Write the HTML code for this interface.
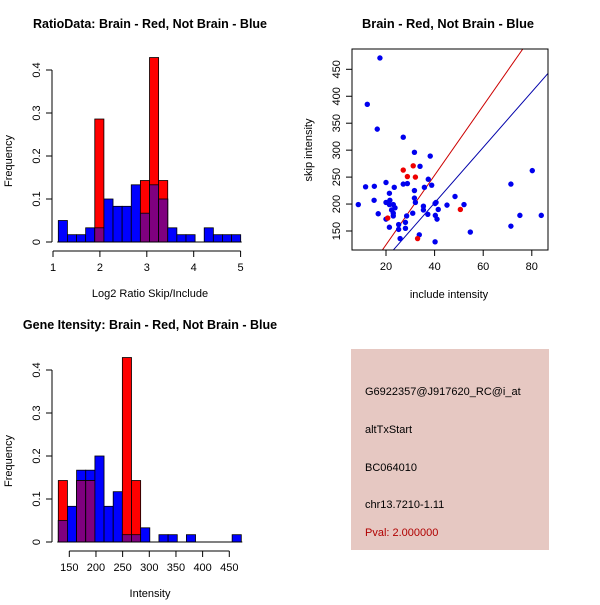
<!DOCTYPE html>
<html><head><meta charset="utf-8"><style>
body{margin:0;background:#fff}
svg text{font-family:"Liberation Sans",sans-serif}
</style></head><body>
<svg id="s" width="600" height="600" xmlns="http://www.w3.org/2000/svg">
<rect width="600" height="600" fill="#fff"/>
<text x="150" y="28" font-size="12.5" font-weight="bold" text-anchor="middle">RatioData: Brain - Red, Not Brain - Blue</text>
<text x="448" y="28" font-size="12.8" font-weight="bold" text-anchor="middle">Brain - Red, Not Brain - Blue</text>
<text x="150" y="329" font-size="12.5" font-weight="bold" text-anchor="middle">Gene Itensity: Brain - Red, Not Brain - Blue</text>
<g>
<rect x="351" y="349" width="198" height="201" fill="#e6c8c2"/>
<text x="365" y="395" font-size="11">G6922357@J917620_RC@i_at</text>
<text x="365" y="433" font-size="11">altTxStart</text>
<text x="365" y="471" font-size="11">BC064010</text>
<text x="365" y="508" font-size="11">chr13.7210-1.11</text>
<text x="365" y="536" font-size="11" fill="#b00000">Pval: 2.000000</text>
</g>
</svg>
<script>
// Ratio histogram data
const ratioBlue=[0.05,0.017,0.017,0.033,0.033,0.1,0.083,0.083,0.133,0.067,0.133,0.1,0.033,0.017,0.017,0,0.033,0.017,0.017,0.017];
const ratioRed=[0,0,0,0,0.286,0,0,0,0,0.143,0.429,0.143,0,0,0,0,0,0,0,0];
const ratioTicks=[1,2,3,4,5];
// Intensity histogram data
const intBlue=[0.05,0.083,0.167,0.167,0.2,0.083,0.117,0.017,0.017,0.033,0,0.017,0.017,0,0.017,0,0,0,0,0.017];
const intRed=[0.143,0,0.143,0.143,0,0,0,0.429,0.143,0,0,0,0,0,0,0,0,0,0,0];
const intTicks=[150,200,250,300,350,400,450];
const freqTicks=[0,0.1,0.2,0.3,0.4];
// Scatter data
const blueX=[17.5,12.3,16.4,27.1,31.7,38.2,34,37.4,20,11.6,15.2,23.4,27.1,28.8,31.7,35.8,38.8,21.4,8.6,15.1,20,21.6,23,21.4,23.7,22.3,23,23,16.8,20,21.4,25.2,25.2,25.8,28,28,28.5,31.7,32.1,31,35.4,35.4,37.2,40.2,40.6,40.3,41,41.5,45.1,48.4,52.1,54.7,40.2,33.7,71.4,71.4,75.1,80.2,83.9];
const blueY=[471,385,339,324,296,289,270,246,240,232,233,231,237,238,225,231,235,220,199,207,203,207,199,199,193,189,183,178,182,172,157,162,153,136,166,155,178,211,203,183,196,189,181,201,203,179,172,190,198,214,199,148,130,143,237,159,179,262,179];
const redX=[27.1,28.8,31.2,32.1,20.7,33,50.6];
const redY=[263,251,271,250,174,136,190];
const xTicks=[20,40,60,80];
const yTicks=[150,200,250,300,350,400,450];
const redLine=[18.5,114.7,76.3,487.7];
const blueLine=[23,114.7,86.7,442.6];

const NS="http://www.w3.org/2000/svg",S=document.getElementById('s');
function el(t,a,p){const e=document.createElementNS(NS,t);for(const k in a)e.setAttribute(k,a[k]);(p||S).appendChild(e);return e;}
function txt(x,y,s,a,p){const e=el('text',Object.assign({x:x,y:y,'font-size':11,'text-anchor':'middle'},a||{}),p);e.textContent=s;return e;}

function hist(name,blue,red,x0,x1,ticks,tx,xlabel,top){
  const g=el('g',{});
  
  
  const y=v=>top+242-v*430;
  const n=blue.length,w=(x1-x0)/n;
  for(let i=0;i<n;i++){
    const bx=x0+i*w,b=blue[i],r=red[i],m=Math.min(b,r);
    if(b>0){const e=el('rect',{x:bx,y:y(b),width:w,height:y(0)-y(b),fill:'#0000ff',stroke:'#000','stroke-width':0.8},g);
      
      }
    if(r>0){const e=el('rect',{x:bx,y:y(r),width:w,height:y(0)-y(r),fill:'#ff0000',stroke:'#000','stroke-width':0.8},g);
      
      }
    if(m>0){const e=el('rect',{x:bx,y:y(m),width:w,height:y(0)-y(m),fill:'#7f007f',stroke:'#000','stroke-width':0.8},g);
      
      }
  }
  el('line',{x1:x0-1,x2:x1+1,y1:y(0),y2:y(0),stroke:'#000','stroke-width':1},g);
  el('line',{x1:52,x2:52,y1:y(0),y2:y(0.4),stroke:'#000'},g);
  freqTicks.forEach(v=>{el('line',{x1:46,x2:52,y1:y(v),y2:y(v),stroke:'#000'},g);
    txt(40,y(v),String(v),{transform:`rotate(-90 40 ${y(v)})`},g);});
  txt(12,top+161,'Frequency',{transform:`rotate(-90 12 ${top+161})`},g);
  const ay=top+251;
  el('line',{x1:tx(ticks[0]),x2:tx(ticks[ticks.length-1]),y1:ay,y2:ay,stroke:'#000'},g);
  ticks.forEach(v=>{el('line',{x1:tx(v),x2:tx(v),y1:ay,y2:ay+6,stroke:'#000'},g);txt(tx(v),ay+20,String(v),{},g);});
  txt(150,top+297,xlabel,{},g);
}
hist('ratio-histogram',ratioBlue,ratioRed,58.3,240.7,ratioTicks,v=>53+(v-1)*46.9,'Log2 Ratio Skip/Include',0);
hist('intensity-histogram',intBlue,intRed,58.3,241.3,intTicks,v=>69.3+(v-150)*0.5333,'Intensity',300);

const sg=el('g',{});


const sx=v=>386+(v-20)*2.43, sy=v=>231-(v-150)*0.539;
const clip=el('clipPath',{id:'cp'},sg);el('rect',{x:352,y:49,width:196,height:201},clip);
el('line',{x1:sx(redLine[0]),y1:sy(redLine[1]),x2:sx(redLine[2]),y2:sy(redLine[3]),stroke:'#cc0000','clip-path':'url(#cp)'},sg);
el('line',{x1:sx(blueLine[0]),y1:sy(blueLine[1]),x2:sx(blueLine[2]),y2:sy(blueLine[3]),stroke:'#0000aa','clip-path':'url(#cp)'},sg);
blueX.forEach((v,i)=>{const c=el('circle',{cx:sx(v),cy:sy(blueY[i]),r:2.7,fill:'#0000ee'},sg);
  
  });
redX.forEach((v,i)=>{const c=el('circle',{cx:sx(v),cy:sy(redY[i]),r:2.7,fill:'#ee0000'},sg);
  
  });
el('rect',{x:352,y:49,width:196,height:201,fill:'none',stroke:'#000'},sg);
xTicks.forEach(v=>{el('line',{x1:sx(v),x2:sx(v),y1:250,y2:256,stroke:'#000'},sg);txt(sx(v),270,String(v),{},sg);});
yTicks.forEach(v=>{el('line',{x1:346,x2:352,y1:sy(v),y2:sy(v),stroke:'#000'},sg);
  txt(340,sy(v),String(v),{transform:`rotate(-90 340 ${sy(v)})`},sg);});
txt(449,298,'include intensity',{},sg);
txt(312,150,'skip intensity',{transform:'rotate(-90 312 150)'},sg);
</script>
</body></html>
